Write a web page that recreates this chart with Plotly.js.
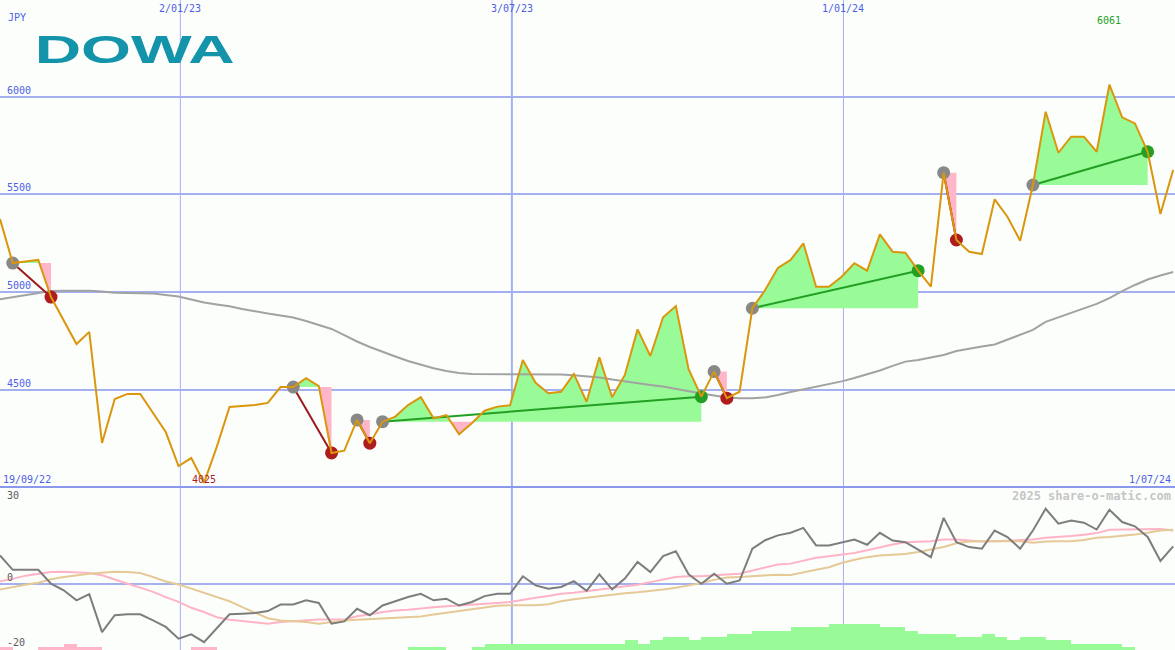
<!DOCTYPE html>
<html>
<head>
<meta charset="utf-8">
<script src="https://cdn.plot.ly/plotly-3.0.1.min.js"></script>
<style>
  html, body { margin: 0; padding: 0; background: #fcfefc; }
  #chart { width: 1175px; height: 650px; }
</style>
</head>
<body>
<div id="chart"></div>
<script>
// ---------- DATA ----------
const firstWeek = '2022-09-25';          // first weekly observation
const axisStart = '2022-09-25';
const axisEnd = '2024-07-01';

// weekly close, JPY
const price = [5374, 5149, 5157, 5165, 4975, 4858, 4735, 4797, 4229, 4454,
  4480, 4480, 4382, 4285, 4111, 4152, 4025, 4209, 4413, 4418,
  4423, 4434, 4515, 4515, 4560, 4520, 4178, 4190, 4347, 4228,
  4338, 4364, 4423, 4463, 4355, 4372, 4274, 4330, 4394, 4415,
  4422, 4653, 4537, 4483, 4491, 4582, 4440, 4667, 4463, 4577,
  4810, 4674, 4872, 4929, 4606, 4466, 4594, 4458, 4491, 4918,
  5011, 5124, 5165, 5250, 5028, 5028, 5079, 5148, 5110, 5296,
  5207, 5202, 5110, 5028, 5611, 5267, 5207, 5195, 5475, 5386,
  5263, 5548, 5923, 5713, 5795, 5795, 5718, 6061, 5894, 5863,
  5718, 5400, 5625];

// long moving average (grey)
const movAvg = [4964, 4975, 4986, 4996, 5006, 5008, 5008, 5008, 5004, 4997,
  4996, 4995, 4993, 4986, 4978, 4963, 4947, 4937, 4928, 4914,
  4901, 4891, 4881, 4871, 4853, 4832, 4812, 4781, 4748, 4720,
  4694, 4671, 4648, 4628, 4611, 4597, 4587, 4582, 4582, 4582,
  4581, 4581, 4580, 4580, 4579, 4575, 4570, 4564, 4554, 4544,
  4536, 4526, 4518, 4505, 4492, 4482, 4472, 4462, 4458, 4458,
  4462, 4474, 4490, 4503, 4515, 4531, 4544, 4561, 4579, 4600,
  4623, 4645, 4653, 4666, 4679, 4699, 4712, 4722, 4733, 4758,
  4781, 4807, 4848, 4871, 4894, 4917, 4940, 4970, 5006, 5037,
  5065, 5085, 5103];

// signals: start week index, end week index, kind
const sigStart = [1, 23, 28, 30, 56, 59, 74, 81];
const sigEnd   = [4, 26, 29, 55, 57, 72, 75, 90];
const sigKind  = ['sell', 'sell', 'sell', 'buy', 'sell', 'buy', 'sell', 'buy'];

// lower panel indicators
const oscillator = [8.7, 4.3, 4.3, 4.3, 0, -2.0, -5.1, -3.2, -14.9, -9.7,
  -9.4, -9.4, -11.3, -13.3, -16.9, -15.6, -18.0, -13.8, -9.4, -9.2,
  -9.0, -8.4, -6.4, -6.4, -5.1, -5.9, -12.3, -11.6, -7.7, -9.7,
  -6.7, -5.4, -4.1, -3.1, -5.1, -4.6, -6.7, -5.6, -3.8, -3.1,
  -3.1, 2.3, -0.5, -1.5, -1.0, 0.8, -2.2, 2.9, -1.7, 1.6,
  6.7, 3.6, 8.5, 10.0, 2.9, 0, 3.1, 0, 1.0, 10.8,
  13.4, 14.9, 15.7, 17.2, 11.8, 11.8, 12.6, 13.6, 12.0, 15.7,
  13.3, 12.8, 10.5, 8.2, 20.3, 12.8, 11.3, 10.8, 16.4, 14.4,
  10.8, 16.4, 23.1, 18.5, 19.5, 18.8, 16.7, 22.8, 19.0, 17.7,
  14.4, 7.0, 11.5];

const fastLine = [0.8, 1.5, 2.5, 3.1, 3.6, 3.7, 3.6, 3.3, 2.6, 1.2,
  0, -1.2, -2.5, -4.1, -5.6, -7.4, -8.7, -10.3, -11.1, -11.5,
  -11.8, -12.3, -11.8, -11.5, -11.3, -11.0, -11.0, -11.0, -10.0, -9.5,
  -8.7, -8.2, -8.0, -7.5, -7.2, -6.9, -6.7, -6.3, -6.1, -5.9,
  -5.6, -4.9, -4.3, -3.8, -3.1, -2.8, -2.3, -1.8, -1.3, -0.8,
  -0.3, 0.5, 1.3, 2.1, 2.3, 2.3, 2.6, 2.9, 3.1, 4.1,
  5.0, 5.9, 6.2, 7.2, 8.0, 8.5, 9.0, 9.5, 10.3, 11.3,
  12.1, 12.8, 13.0, 13.1, 13.6, 13.6, 13.3, 13.0, 13.1, 13.3,
  13.3, 13.6, 14.2, 14.4, 14.7, 15.1, 15.6, 16.6, 16.7, 16.8,
  16.9, 16.9, 16.4];

const slowLine = [-1.8, -1.0, -0.3, 0.3, 1.4, 2.1, 2.7, 3.1, 3.4, 3.7,
  3.6, 3.3, 2.1, 0.7, -0.2, -1.5, -2.6, -4.1, -5.4, -7.2,
  -9.0, -10.6, -11.3, -11.5, -11.8, -12.3, -11.8, -11.3, -11.1, -10.9,
  -10.8, -10.7, -10.5, -10.1, -9.5, -9.0, -8.4, -7.9, -7.3, -6.8,
  -6.6, -6.6, -6.6, -6.3, -5.4, -4.8, -4.3, -3.8, -3.3, -2.9,
  -2.6, -2.3, -1.8, -1.2, -0.6, 0.2, 1.2, 1.9, 2.1, 2.3,
  2.4, 2.8, 2.7, 3.4, 4.3, 5.1, 6.4, 7.4, 8.2, 8.7,
  9.0, 9.2, 9.8, 10.6, 11.3, 12.5, 13.0, 13.1, 13.1, 13.3,
  13.1, 12.6, 13.0, 13.1, 13.1, 13.5, 14.2, 14.4, 14.7, 15.2,
  15.7, 16.4, 16.6];

// trend strength histogram (negative = pink, positive = green)
const histogram = [-1, 0, 0, -1, -1, -2, -1, -1, 0, 0,
  0, 0, 0, 0, 0, -1, -1, 0, 0, 0,
  0, 0, 0, 0, 0, 0, 0, 0, 0, 0,
  0, 0, 1, 1, 1, 0, 0, 1, 2, 2,
  2, 2, 2, 2, 2, 2, 2, 2, 2, 3,
  2, 3, 4, 4, 3, 4, 4, 5, 5, 6,
  6, 6, 7, 7, 7, 8, 8, 8, 8, 7,
  7, 6, 5, 5, 5, 4, 4, 5, 4, 3,
  4, 4, 3, 3, 2, 2, 2, 2, 1, 0,
  0, 0, 0];

// axis texts
const gridDates = ['2023-01-02', '2023-07-03', '2024-01-01'];
const gridLabels = ['2/01/23', '3/07/23', '1/01/24'];
const priceTicks = [4500, 5000, 5500, 6000];
const oscTicks = [30, 0, -20];
const currency = 'JPY';
const companyName = 'DOWA';
const firstLabel = '19/09/22';
const lastLabel = '1/07/24';
const watermark = '2025 share-o-matic.com';

// ---------- BUILD ----------
const DAY = 86400000;
const t0 = Date.parse(firstWeek + 'T00:00:00Z');
const xms = price.map((_, i) => t0 + i * 7 * DAY);
const dates = xms.map(t => new Date(t).toISOString().slice(0, 10));

const yPrice = [4004, 6494];
const yOsc = [-20.4, 29.8];
const split = 163 / 650;

const C = {
  grid: '#a4b0f0', sep: '#8c98ec', text: '#4d5fe6',
  price: '#da960c', ma: '#a2a2a2',
  green: '#98fb98', pink: '#ffb6c8',
  gdot: '#888888', rdot: '#ae1d1d', gline: '#239f23', rline: '#9c1a1a',
  osc: '#7d7d7d', fast: '#ffb4c6', slow: '#e5c997'
};

const traces = [];

// fills between start level and price line
sigStart.forEach((s, k) => {
  const e = sigEnd[k];
  const level = price[s];
  const ax = [], ay = [];
  for (let j = s; j <= e; j++) {
    ax.push(xms[j]); ay.push(price[j]);
    if (j < e) {
      const a = price[j] - level, b = price[j + 1] - level;
      if (a * b < 0) {
        const t = a / (a - b);
        ax.push(xms[j] + t * (xms[j + 1] - xms[j])); ay.push(level);
      }
    }
  }
  const up = ay.map(v => Math.max(v, level));
  const dn = ay.map(v => Math.min(v, level));
  const closeX = [...ax, ax[ax.length - 1], ax[0]].map(t => new Date(t).toISOString());
  traces.push({ x: closeX, y: [...up, level, level], type: 'scatter', mode: 'lines',
    fill: 'toself', fillcolor: C.green, line: { width: 0 }, hoverinfo: 'skip', xaxis: 'x', yaxis: 'y' });
  traces.push({ x: closeX, y: [...dn, level, level], type: 'scatter', mode: 'lines',
    fill: 'toself', fillcolor: C.pink, line: { width: 0 }, hoverinfo: 'skip', xaxis: 'x', yaxis: 'y' });
});

// moving average
traces.push({ x: dates, y: movAvg, type: 'scatter', mode: 'lines',
  line: { color: C.ma, width: 2 }, xaxis: 'x', yaxis: 'y' });

// trend lines
sigStart.forEach((s, k) => {
  const e = sigEnd[k];
  traces.push({ x: [dates[s], dates[e]], y: [price[s], price[e]], type: 'scatter', mode: 'lines',
    line: { color: sigKind[k] === 'buy' ? C.gline : C.rline, width: 2 }, xaxis: 'x', yaxis: 'y' });
});

// signal dots
traces.push({ x: sigStart.map(i => dates[i]), y: sigStart.map(i => price[i]), type: 'scatter', mode: 'markers',
  marker: { color: C.gdot, size: 13 }, xaxis: 'x', yaxis: 'y' });
traces.push({ x: sigEnd.map(i => dates[i]), y: sigEnd.map(i => price[i]), type: 'scatter', mode: 'markers',
  marker: { color: sigKind.map(k => k === 'buy' ? C.gline : C.rdot), size: 13 }, xaxis: 'x', yaxis: 'y' });

// price line
traces.push({ x: dates, y: price, type: 'scatter', mode: 'lines',
  line: { color: C.price, width: 2 }, xaxis: 'x', yaxis: 'y' });

// lower panel
traces.push({ x: dates, y: histogram.map(v => Math.abs(v)), base: yOsc[0], type: 'bar',
  offset: 0, width: 7 * DAY, marker: { color: histogram.map(v => v < 0 ? C.pink : C.green), line: { width: 0 } },
  xaxis: 'x', yaxis: 'y2' });
traces.push({ x: dates, y: fastLine, type: 'scatter', mode: 'lines', line: { color: C.fast, width: 2 }, xaxis: 'x', yaxis: 'y2' });
traces.push({ x: dates, y: slowLine, type: 'scatter', mode: 'lines', line: { color: C.slow, width: 2 }, xaxis: 'x', yaxis: 'y2' });
traces.push({ x: dates, y: oscillator, type: 'scatter', mode: 'lines', line: { color: C.osc, width: 2 }, xaxis: 'x', yaxis: 'y2' });

// annotations
const mono = 'DejaVu Sans Mono, monospace';
const ann = [];
const py = px => 1 - px / 650;
ann.push({ text: currency, xref: 'paper', yref: 'paper', x: 6 / 1175, y: py(18), xanchor: 'left', yanchor: 'middle',
  showarrow: false, font: { family: mono, size: 10, color: C.text } });
gridDates.forEach((d, k) => ann.push({ text: gridLabels[k], xref: 'x', yref: 'paper', x: d, y: py(9),
  xanchor: 'center', yanchor: 'middle', showarrow: false, font: { family: mono, size: 10, color: C.text } }));
priceTicks.forEach(v => ann.push({ text: String(v), xref: 'paper', yref: 'y', x: 5 / 1175, y: v,
  xanchor: 'left', yanchor: 'bottom', yshift: -1, showarrow: false, font: { family: mono, size: 10, color: C.text } }));
ann.push({ text: firstLabel, xref: 'paper', yref: 'paper', x: 1 / 1175, y: py(479), xanchor: 'left', yanchor: 'middle',
  showarrow: false, font: { family: mono, size: 10, color: C.text } });
ann.push({ text: lastLabel, xref: 'paper', yref: 'paper', x: 1173 / 1175, y: py(479), xanchor: 'right', yanchor: 'middle',
  showarrow: false, font: { family: mono, size: 10, color: C.text } });
const lo = Math.min(...price), hi = Math.max(...price);
ann.push({ text: String(lo), xref: 'x', yref: 'paper', x: dates[price.indexOf(lo)], y: py(479), xanchor: 'center', yanchor: 'middle',
  showarrow: false, font: { family: mono, size: 10, color: '#a81e1e' } });
ann.push({ text: String(hi), xref: 'x', yref: 'paper', x: dates[price.indexOf(hi)], y: py(21), xanchor: 'center', yanchor: 'middle',
  showarrow: false, font: { family: mono, size: 10, color: '#22a022' } });
oscTicks.forEach(v => ann.push({ text: String(v), xref: 'paper', yref: 'y2', x: 5 / 1175,
  y: v === 30 ? yOsc[1] : v, xanchor: 'left', yanchor: v === 30 ? 'top' : 'bottom', yshift: v === 30 ? -1 : -1,
  showarrow: false, font: { family: mono, size: 10, color: '#5a5a5a' } }));
ann.push({ text: watermark, xref: 'paper', yref: 'paper', x: 1173 / 1175, y: py(496), xanchor: 'right', yanchor: 'middle',
  showarrow: false, font: { family: mono, size: 12, color: '#c6c6c6', weight: 'bold' } });
ann.push({ text: companyName, xref: 'paper', yref: 'paper', x: 134.5 / 1175, y: py(49), xanchor: 'center', yanchor: 'middle',
  showarrow: false, font: { family: 'Liberation Sans, Arial, sans-serif', size: 39, color: '#1394aa', weight: 'bold' } });

// shapes: vertical gridlines and panel separator
const shapes = gridDates.map((d, k) => ({ type: 'line', xref: 'x', yref: 'paper', x0: d, x1: d, y0: 0, y1: 1,
  line: { color: C.grid, width: k === 1 ? 2 : 1 }, layer: 'below' }));
shapes.push({ type: 'line', xref: 'paper', yref: 'paper', x0: 0, x1: 1, y0: split, y1: split,
  line: { color: C.sep, width: 2 }, layer: 'above' });

const layout = {
  width: 1175, height: 650,
  margin: { l: 0, r: 0, t: 0, b: 0, pad: 0 },
  paper_bgcolor: '#fcfefc', plot_bgcolor: '#fcfefc',
  showlegend: false,
  bargap: 0,
  xaxis: { type: 'date', range: [axisStart, axisEnd], showgrid: false, zeroline: false,
    showticklabels: false, ticks: '', showline: false, domain: [0, 1] },
  yaxis: { domain: [split, 1], range: yPrice, tickvals: priceTicks, showgrid: true, gridcolor: C.grid, gridwidth: 2,
    showticklabels: false, ticks: '', zeroline: false, showline: false },
  yaxis2: { domain: [0, split], range: yOsc, tickvals: [0], showgrid: true, gridcolor: C.grid, gridwidth: 2,
    showticklabels: false, ticks: '', zeroline: false, showline: false },
  annotations: ann,
  shapes: shapes
};

Plotly.newPlot('chart', traces, layout, { staticPlot: true, displayModeBar: false }).then(() => {
  document.querySelectorAll('text.annotation-text').forEach(t => {
    if (t.textContent === companyName) {
      t.setAttribute('textLength', '200');
      t.setAttribute('lengthAdjust', 'spacingAndGlyphs');
    }
  });
});
</script>
</body>
</html>
